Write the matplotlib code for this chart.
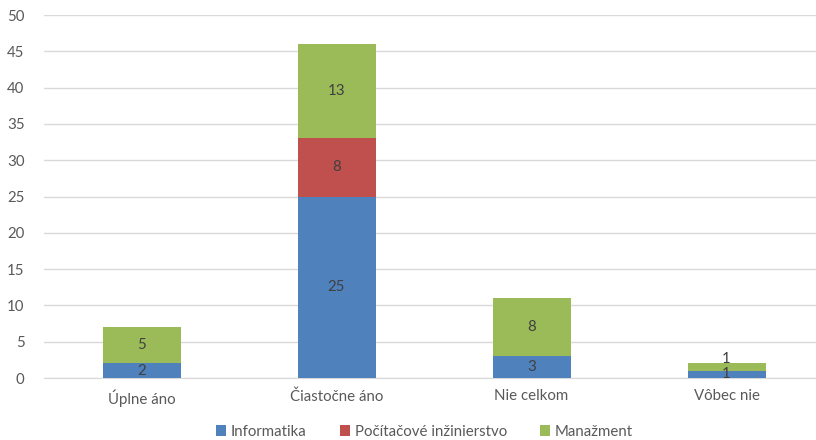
import matplotlib
matplotlib.use("Agg")
import matplotlib.pyplot as plt
import numpy as np

categories = ["Úplne áno", "Čiastočne áno", "Nie celkom", "Vôbec nie"]
series_names = ["Informatika", "Počítačové inžinierstvo", "Manažment"]
informatika = [2, 25, 3, 1]
pocitacove = [0, 8, 0, 0]
manazment = [5, 13, 8, 1]
colors = ["#4F81BD", "#C0504D", "#9BBB59"]
text_col = "#595959"

plt.rcParams['font.family'] = ['Lato', 'DejaVu Sans']

fig = plt.figure(figsize=(8.16, 4.4), dpi=100)
ax = fig.add_axes([44 / 816, 62 / 440, 780 / 816, 363 / 440])

x = np.arange(len(categories))
bottom = np.zeros(len(categories))
for name, vals, c in zip(series_names, [informatika, pocitacove, manazment], colors):
    vals = np.array(vals, dtype=float)
    ax.bar(x, vals, 0.4, bottom=bottom, color=c, label=name, zorder=3)
    for i, v in enumerate(vals):
        if v == 0:
            continue
        yc = bottom[i] + v / 2
        # small segments: push the upper label above the bar like Excel does
        if v < 1.5 and bottom[i] > 0:
            yc = bottom[i] + v + 0.6
        ax.text(x[i], yc, f"{int(v)}", ha="center", va="center",
                fontsize=10.8, color="#404040", zorder=4)
    bottom += vals

ax.set_xlim(-0.5, 3.5)
ax.set_ylim(0, 50)
ax.set_yticks(np.arange(0, 51, 5))
ax.set_xticks(x)
ax.set_xticklabels(categories)
ax.yaxis.grid(True, color="#D9D9D9", linewidth=1, zorder=0)
for s in ["top", "right", "left"]:
    ax.spines[s].set_visible(False)
ax.spines["bottom"].set_color("#D9D9D9")
ax.tick_params(axis="both", length=0, labelsize=10.8, colors=text_col)
ax.tick_params(axis="x", pad=8)
ax.tick_params(axis="y", pad=14)

fig.legend(loc="lower center", bbox_to_anchor=(0.52, -0.028), ncol=3, frameon=False,
           fontsize=10.8, handlelength=0.7, handleheight=0.7, handletextpad=0.3,
           columnspacing=2.2, labelcolor=text_col)

fig.savefig("out.png", dpi=100)
